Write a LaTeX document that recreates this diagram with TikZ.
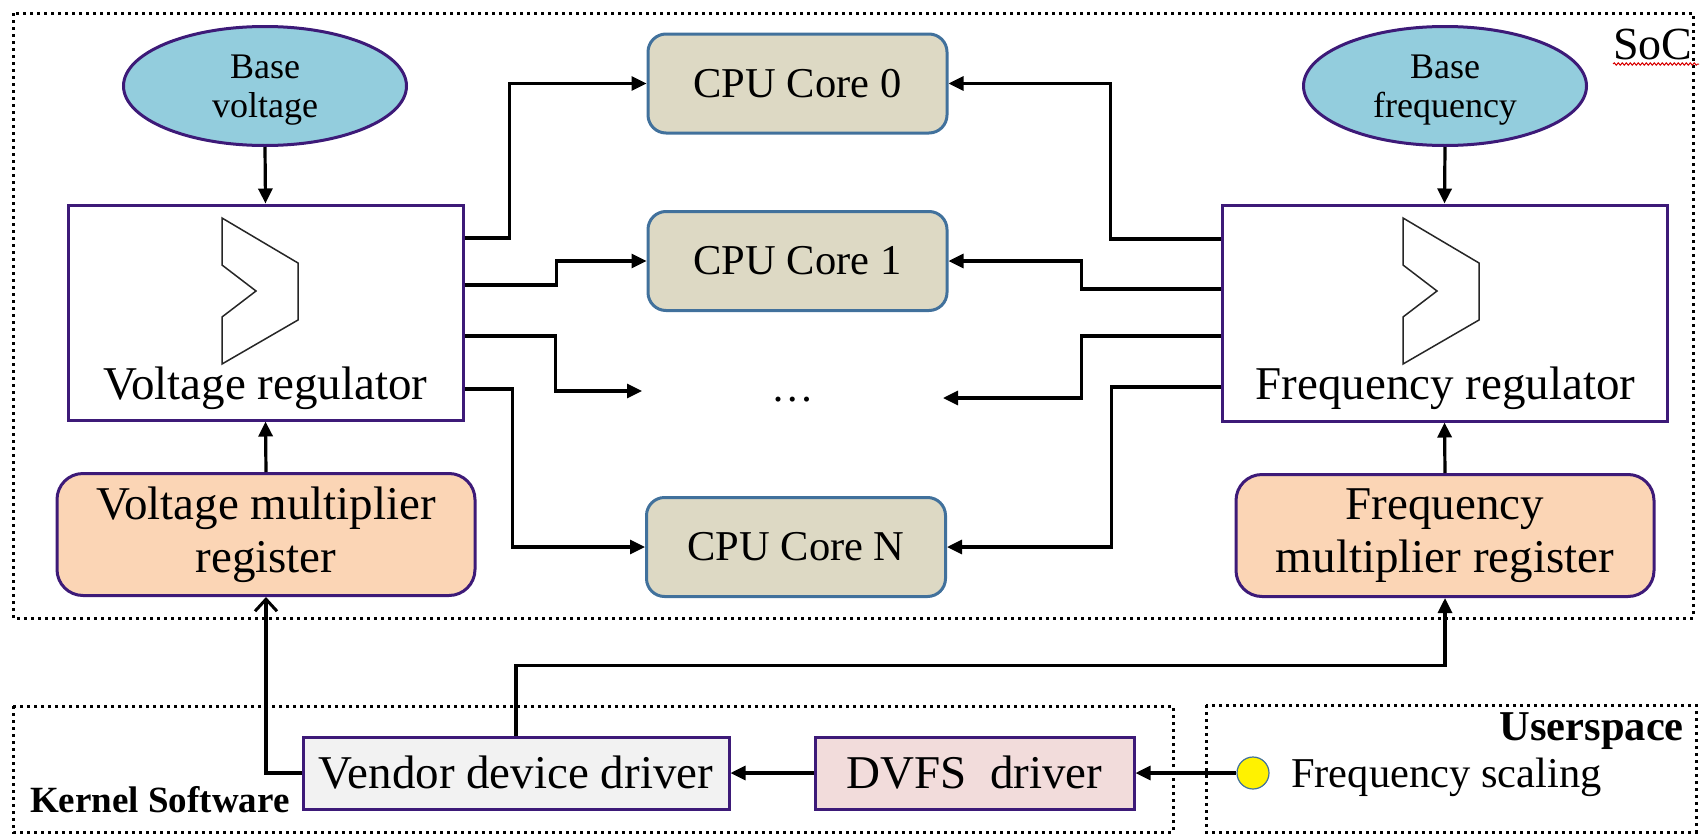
\documentclass[tikz,border=0pt]{standalone}
\usepackage{fontspec}
\setmainfont{Liberation Serif}
\usetikzlibrary{arrows.meta,shapes.geometric,decorations.pathmorphing,calc}
\definecolor{purp}{HTML}{3D1A78}
\definecolor{ellfill}{HTML}{93CDDD}
\definecolor{corefill}{HTML}{DDD9C4}
\definecolor{coreline}{HTML}{41719C}
\definecolor{regfill}{HTML}{FBD5B5}
\definecolor{vddfill}{HTML}{F2F2F2}
\definecolor{dvfsfill}{HTML}{F2DCDB}
\begin{document}
\begin{tikzpicture}[x=1pt,y=-1pt,
  big/.style={font=\fontsize{47}{53}\selectfont},
  mid/.style={font=\fontsize{42.5}{48}\selectfont},
  small/.style={font=\fontsize{36}{39}\selectfont},
  conn/.style={line width=3.2pt,-{Triangle[length=15pt,width=14pt]}},
  barb/.style={line width=3.2pt,-{Straight Barb[length=12pt,width=22pt,line width=3pt]}},
  region/.style={draw,line width=3pt,dash pattern=on 3pt off 4pt},
  ell/.style={ellipse,draw=purp,fill=ellfill,line width=3pt,minimum width=283pt,minimum height=119pt,inner sep=0pt,align=center,small,text depth=0pt},
  regbox/.style={rectangle,draw=purp,fill=white,line width=3pt,inner sep=0pt},
  core/.style={rectangle,rounded corners=18pt,draw=coreline,fill=corefill,line width=3pt,minimum width=299pt,minimum height=99pt,inner sep=0pt,mid},
  mreg/.style={rectangle,rounded corners=26pt,draw=purp,fill=regfill,line width=3pt,minimum width=418pt,minimum height=122pt,inner sep=0pt,align=center,big},
  drv/.style={rectangle,draw=purp,line width=3pt,minimum height=72pt,inner sep=0pt,big},
  chev/.style={draw=black!85,line width=1.5pt,line join=miter},
]
\useasboundingbox (0,0) rectangle (1700,835);
% regions
\draw[region] (13,13) rectangle (1693,618);
\draw[region] (13,706) rectangle (1173,832);
\draw[region] (1206,705) rectangle (1696,832);
% ellipses
\node[ell] (bv) at (265,86) {Base\\voltage};
\node[ell] (bf) at (1445,86) {Base\\frequency};
% regulators
\node[regbox,minimum width=395pt,minimum height=215pt] (vr) at (265.5,312.5) {};
\node[regbox,minimum width=445pt,minimum height=216pt] (fr) at (1444.5,313) {};
\foreach \dx in {0,1181}
  \draw[chev] (222+\dx,218) -- (298+\dx,263) -- (298+\dx,320) -- (222+\dx,364) -- (222+\dx,317) -- (256+\dx,291) -- (222+\dx,265) -- cycle;
\node[big,anchor=base,inner sep=0pt] (vrl) at (265.5,399) {Voltage regulator};
\node[big,anchor=base,inner sep=0pt] (frl) at (1445.5,399) {Frequency regulator};
% cores
\node[core] (c0) at (797.5,83.5) {CPU Core 0};
\node[core] (c1) at (797.5,261) {CPU Core 1};
\node[core] (cN) at (796,547) {CPU Core N};
\node[mid,anchor=base,inner sep=0pt] (dots) at (793,401) {…};
\coordinate (dl) at (642,391);
\coordinate (dr) at (943,398);
% multiplier registers
\node[mreg] (vmr) at (266,534.5) {Voltage multiplier\\register};
\node[mreg] (fmr) at (1445,535.5) {Frequency\\multiplier register};
% drivers
\node[drv,fill=vddfill,minimum width=426pt] (vdd) at (516,773) {Vendor device driver};
\node[drv,fill=dvfsfill,minimum width=319pt] (dvfs) at (974.5,773) {DVFS~~driver};
\node[circle,draw=coreline,fill=yellow,line width=1.2pt,minimum size=32pt,inner sep=0pt] (fs) at (1253,773) {};
\node[mid,anchor=base west,inner sep=0pt] (fsl) at (1291,787) {Frequency scaling};
% labels
\node[font=\fontsize{46}{50}\selectfont,anchor=base west,inner sep=0pt] (soc) at (1613,59) {SoC};
\draw[red!85!black,line width=1pt,decorate,decoration={snake,amplitude=1.2pt,segment length=4pt}] (1613,64) -- (1699,64);
\node[font=\bfseries\fontsize{37}{40}\selectfont,anchor=base west,inner sep=0pt] (ks) at (30,812) {Kernel Software};
\node[font=\bfseries\fontsize{42.5}{46}\selectfont,anchor=base east,inner sep=0pt] (us) at (1684,740) {Userspace};
% connectors
\draw[conn] (bv.south) -- (vr.north);
\draw[conn] (bf.south) -- (fr.north);
\draw[conn] (vmr.north) -- (vr.south);
\draw[conn] (fmr.north) -- (fr.south);
\draw[conn] ([yshift=74.5pt]vr.east) -- ++(45,0) |- (c0.west);
\draw[conn] ([yshift=27.5pt]vr.east) -- ++(92,0) |- (c1.west);
\draw[conn] ([yshift=-23.5pt]vr.east) -- ++(91,0) |- (dl);
\draw[conn] ([yshift=-76.5pt]vr.east) -- ++(48,0) |- (cN.west);
\draw[conn] ([yshift=74pt]fr.west) -- ++(-110,0) |- (c0.east);
\draw[conn] ([yshift=24pt]fr.west) -- ++(-139,0) |- (c1.east);
\draw[conn] ([yshift=-23pt]fr.west) -- ++(-139,0) |- (dr);
\draw[conn] ([yshift=-74pt]fr.west) -- ++(-109,0) |- (cN.east);
\draw[conn] (fs.west) -- (dvfs.east);
\draw[conn] (dvfs.west) -- (vdd.east);
\draw[barb] (vdd.west) -| (vmr.south);
\draw[conn] (vdd.north) -- ++(0,-70) -| (fmr.south);
\end{tikzpicture}
\end{document}
